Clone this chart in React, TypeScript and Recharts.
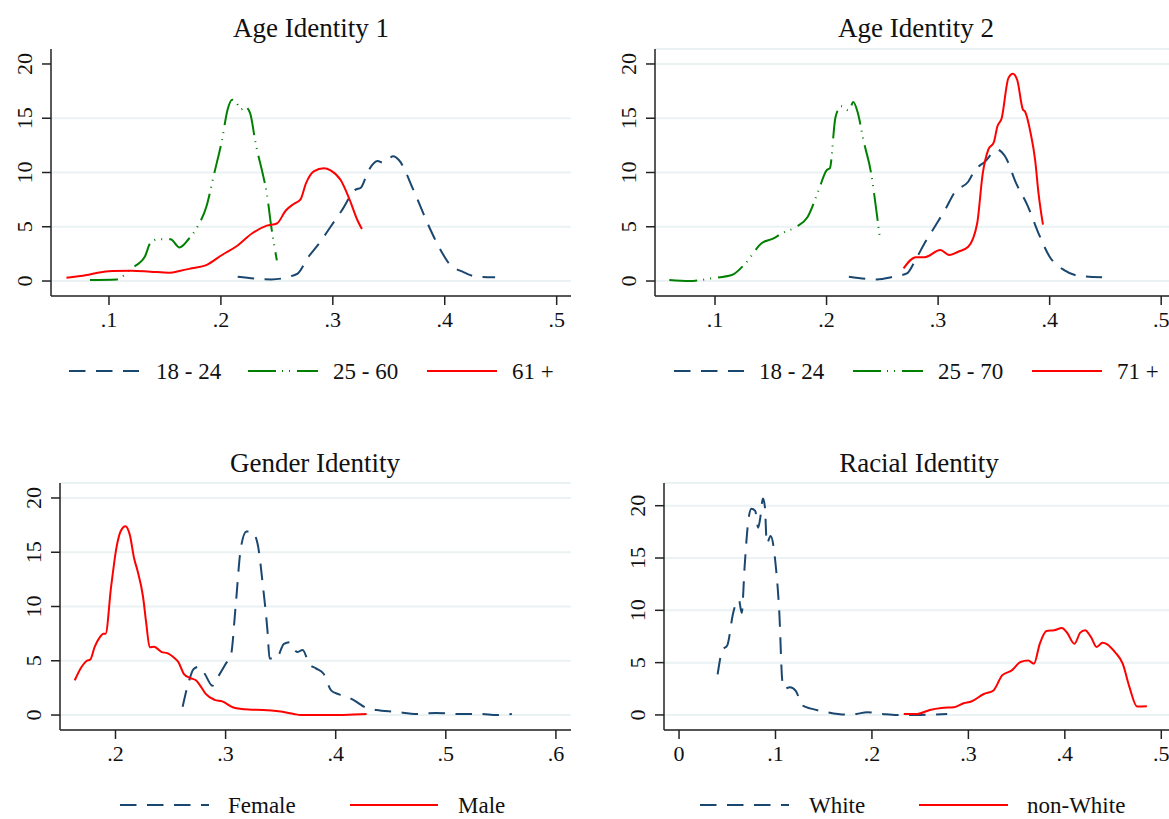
import React from 'react'
import { LineChart, Line, XAxis, YAxis, CartesianGrid } from 'recharts'

const FONT = '"Liberation Serif", "Times New Roman", serif'
const NAVY = '#1a476f'
const GREEN = '#008000'
const RED = '#ff0000'

type Pt = [number, number]

// ---- Age Identity 1
const age1Young: Pt[] = [
  [0.215, 0.4], [0.245, 0.15], [0.268, 0.65], [0.278, 2.2], [0.288, 3.5], [0.298, 5.0],
  [0.308, 6.5], [0.32, 8.4], [0.325, 8.6], [0.332, 10.2], [0.34, 11.05], [0.345, 10.9],
  [0.354, 11.5], [0.359, 11.15], [0.372, 8.4], [0.386, 5.0], [0.396, 2.9], [0.404, 1.6],
  [0.416, 0.86], [0.429, 0.4], [0.445, 0.34],
]
const age1Mid: Pt[] = [
  [0.083, 0.1], [0.107, 0.15], [0.12, 1.17], [0.132, 2.24], [0.137, 3.5], [0.144, 3.85],
  [0.155, 3.85], [0.163, 3.1], [0.171, 3.85], [0.179, 5.0], [0.187, 6.85], [0.194, 9.9],
  [0.201, 13.0], [0.206, 15.8], [0.21, 16.7], [0.214, 16.4], [0.218, 15.8], [0.221, 16.1],
  [0.226, 15.5], [0.231, 12.7], [0.238, 9.6], [0.241, 8.1], [0.245, 5.0], [0.25, 1.9],
]
const age1Old: Pt[] = [
  [0.062, 0.3], [0.08, 0.55], [0.09, 0.77], [0.103, 0.92], [0.12, 0.95], [0.137, 0.86],
  [0.154, 0.77], [0.164, 0.95], [0.174, 1.17], [0.187, 1.47], [0.201, 2.4], [0.214, 3.2],
  [0.228, 4.4], [0.241, 5.1], [0.25, 5.3], [0.258, 6.5], [0.265, 7.1], [0.271, 7.5],
  [0.276, 9.0], [0.283, 10.1], [0.292, 10.4], [0.298, 10.2], [0.307, 9.3], [0.315, 7.5],
  [0.322, 5.6], [0.326, 4.8],
]

// ---- Age Identity 2
const age2Young: Pt[] = [
  [0.22, 0.4], [0.245, 0.15], [0.26, 0.4], [0.272, 0.7], [0.28, 2.0], [0.288, 3.5],
  [0.297, 5.0], [0.307, 6.7], [0.315, 8.2], [0.327, 9.15], [0.333, 10.2], [0.342, 11.0],
  [0.353, 12.1], [0.36, 11.5], [0.37, 9.0], [0.38, 7.0], [0.39, 4.4], [0.4, 2.24],
  [0.413, 1.0], [0.427, 0.46], [0.447, 0.34],
]
const age2Mid: Pt[] = [
  [0.059, 0.1], [0.077, 0.0], [0.097, 0.25], [0.115, 0.55], [0.127, 1.6], [0.142, 3.5],
  [0.152, 3.9], [0.16, 4.4], [0.173, 5.0], [0.183, 5.9], [0.193, 8.4], [0.2, 10.2],
  [0.203, 10.4], [0.208, 15.1], [0.213, 16.1], [0.22, 15.7], [0.224, 16.5], [0.228, 15.5],
  [0.233, 13.0], [0.24, 9.9], [0.245, 6.2], [0.248, 3.8],
]
const age2Old: Pt[] = [
  [0.269, 1.17], [0.28, 2.2], [0.288, 2.2], [0.302, 2.86], [0.31, 2.4], [0.318, 2.7],
  [0.327, 3.16], [0.335, 5.3], [0.34, 9.9], [0.345, 12.1], [0.35, 12.8], [0.353, 14.2],
  [0.357, 15.0], [0.363, 18.7], [0.367, 19.1], [0.371, 18.5], [0.376, 15.8], [0.378, 15.6],
  [0.383, 13.6], [0.387, 11.15], [0.39, 8.1], [0.394, 5.2],
]

// ---- Gender Identity
const female: Pt[] = [
  [0.261, 0.77], [0.266, 2.86], [0.271, 4.25], [0.276, 4.46], [0.281, 3.8], [0.288, 2.7],
  [0.293, 3.5], [0.3, 4.7], [0.305, 5.6], [0.309, 9.9], [0.314, 15.5], [0.319, 16.9],
  [0.324, 16.9], [0.329, 15.8], [0.334, 11.8], [0.338, 7.8], [0.34, 5.2], [0.346, 5.2],
  [0.353, 6.55], [0.358, 6.7], [0.365, 5.8], [0.37, 6.0], [0.376, 4.7], [0.382, 4.3],
  [0.389, 3.8], [0.396, 2.25], [0.403, 1.9], [0.416, 1.4], [0.428, 0.65], [0.437, 0.46],
  [0.454, 0.3], [0.474, 0.1], [0.491, 0.18], [0.512, 0.1], [0.532, 0.1], [0.546, 0.0],
  [0.56, 0.1],
]
const male: Pt[] = [
  [0.163, 3.2], [0.169, 4.4], [0.174, 5.0], [0.177, 5.1], [0.181, 6.25], [0.186, 7.2],
  [0.189, 7.5], [0.191, 7.5], [0.196, 11.8], [0.201, 15.5], [0.205, 17.0], [0.209, 17.4],
  [0.213, 16.6], [0.217, 14.4], [0.22, 13.3], [0.225, 10.9], [0.228, 8.4], [0.231, 6.25],
  [0.235, 6.3], [0.242, 5.8], [0.247, 5.7], [0.254, 5.2], [0.257, 4.9], [0.262, 3.8],
  [0.268, 3.4], [0.273, 3.2], [0.278, 2.55], [0.282, 1.94], [0.29, 1.4], [0.297, 1.26],
  [0.307, 0.7], [0.321, 0.5], [0.334, 0.46], [0.348, 0.34], [0.362, 0.1], [0.368, 0.0],
  [0.403, 0.0], [0.416, 0.05], [0.428, 0.1],
]

// ---- Racial Identity
const white: Pt[] = [
  [0.04, 3.87], [0.045, 6.2], [0.05, 6.65], [0.056, 9.7], [0.058, 10.4], [0.062, 11.0],
  [0.065, 9.76], [0.068, 14.2], [0.072, 18.7], [0.075, 19.7], [0.079, 19.5], [0.082, 17.9],
  [0.084, 18.7], [0.087, 20.7], [0.089, 19.9], [0.091, 16.4], [0.095, 17.1], [0.1, 14.5],
  [0.104, 9.7], [0.107, 3.3], [0.109, 2.5], [0.115, 2.65], [0.121, 2.3], [0.128, 0.9],
  [0.138, 0.58], [0.153, 0.26], [0.172, 0.03], [0.184, 0.1], [0.195, 0.26], [0.211, 0.1],
  [0.226, 0.0], [0.245, 0.0], [0.26, 0.03], [0.278, 0.1],
]
const nonWhite: Pt[] = [
  [0.233, 0.1], [0.247, 0.1], [0.26, 0.48], [0.272, 0.67], [0.285, 0.74], [0.295, 1.12],
  [0.303, 1.28], [0.316, 2.0], [0.326, 2.34], [0.335, 3.78], [0.345, 4.26], [0.354, 5.06],
  [0.362, 5.2], [0.368, 4.9], [0.374, 6.8], [0.381, 8.03], [0.389, 8.1], [0.397, 8.3],
  [0.402, 7.9], [0.41, 6.8], [0.416, 7.87], [0.421, 8.1], [0.427, 7.46], [0.433, 6.5],
  [0.439, 6.9], [0.444, 6.75], [0.452, 6.0], [0.46, 4.9], [0.467, 2.66], [0.475, 0.8],
  [0.485, 0.83],
]

// ---- ticks
const yTicks = [0, 5, 10, 15, 20]
const xTicksAge = [0.1, 0.2, 0.3, 0.4, 0.5]
const xLabelsAge = ['.1', '.2', '.3', '.4', '.5']
const xTicksGender = [0.2, 0.3, 0.4, 0.5, 0.6]
const xLabelsGender = ['.2', '.3', '.4', '.5', '.6']
const xTicksRace = [0, 0.1, 0.2, 0.3, 0.4, 0.5]
const xLabelsRace = ['0', '.1', '.2', '.3', '.4', '.5']

const toRows = (pts: Pt[]) => pts.map(([x, y]) => ({ x, y }))

const DASH = '16.5 10.5'
const DASH_DOT = '28 6 1 6 1 7'

const tickText = { fontSize: 22, fontFamily: FONT, fill: '#111' }

interface SeriesDef {
  name: string
  pts: Pt[]
  color: string
  dash?: string
}

interface PanelProps {
  left: number
  top: number
  width: number
  yAxisWidth: number
  marginRight: number
  xDomain: [number, number]
  yDomain: [number, number]
  xTicks: number[]
  xLabels: string[]
  gridValues?: number[]
  series: SeriesDef[]
}

function Panel({ left, top, width, yAxisWidth, marginRight, xDomain, yDomain, xTicks, xLabels, gridValues, series }: PanelProps) {
  const XTick = (props: any) => {
    const { x, y, payload } = props
    const i = xTicks.findIndex((t) => Math.abs(t - payload.value) < 1e-9)
    return (
      <text x={x} y={y + 22} textAnchor="middle" style={tickText}>
        {xLabels[i]}
      </text>
    )
  }
  const YTick = (props: any) => {
    const { x, y, payload } = props
    const bx = x - 10
    return (
      <text x={bx} y={y} transform={`rotate(-90, ${bx}, ${y})`} textAnchor="middle" style={tickText}>
        {payload.value}
      </text>
    )
  }
  return (
    <div style={{ position: 'absolute', left, top }}>
      <LineChart width={width} height={380} margin={{ top: 49, right: marginRight, left: 0, bottom: 44 }}>
        <CartesianGrid
          vertical={false}
          stroke="#eaf2f3"
          strokeWidth={2}
          horizontalValues={gridValues}
        />
        <XAxis
          dataKey="x"
          type="number"
          domain={xDomain}
          allowDataOverflow
          ticks={xTicks}
          interval={0}
          height={40}
          tickSize={9}
          tickMargin={0}
          axisLine={{ stroke: '#222', strokeWidth: 1.5 }}
          tickLine={{ stroke: '#222', strokeWidth: 1.5 }}
          tick={<XTick />}
        />
        <YAxis
          type="number"
          domain={yDomain}
          allowDataOverflow
          ticks={yTicks}
          interval={0}
          width={yAxisWidth}
          tickSize={9}
          tickMargin={0}
          axisLine={{ stroke: '#222', strokeWidth: 1.5 }}
          tickLine={{ stroke: '#222', strokeWidth: 1.5 }}
          tick={<YTick />}
        />
        {series.map((s) => (
          <Line
            key={s.name}
            data={toRows(s.pts)}
            dataKey="y"
            name={s.name}
            type="monotone"
            stroke={s.color}
            strokeWidth={2}
            strokeDasharray={s.dash}
            dot={false}
            activeDot={false}
            isAnimationActive={false}
          />
        ))}
      </LineChart>
    </div>
  )
}

interface LegendItem {
  label: string
  color: string
  dash?: string
  x1: number
  x2: number
  tx: number
}

const legendText = { fontSize: 23, fontFamily: FONT, fill: '#111' }

function LegendRow({ y, items }: { y: number; items: LegendItem[] }) {
  return (
    <g>
      {items.map((it) => (
        <g key={it.label}>
          <line x1={it.x1} x2={it.x2} y1={y} y2={y} stroke={it.color} strokeWidth={2} strokeDasharray={it.dash} />
          <text x={it.tx} y={y + 7.5} style={legendText}>
            {it.label}
          </text>
        </g>
      ))}
    </g>
  )
}

const titleStyle = { fontSize: 27, fontFamily: FONT, fill: '#111' }

export default function App() {
  return (
    <div style={{ position: 'absolute', left: 0, top: 0, width: 1169, height: 819, background: '#fff', overflow: 'hidden', fontFamily: FONT }}>
      <Panel
        left={0}
        top={0}
        width={590}
        yAxisWidth={51}
        marginRight={19}
        xDomain={[0.0482, 0.5128]}
        yDomain={[-1.38, 21.38]}
        xTicks={xTicksAge}
        xLabels={xLabelsAge}
        gridValues={[0, 5, 10, 15]}
        series={[
          { name: '18 - 24', pts: age1Young, color: NAVY, dash: DASH },
          { name: '25 - 60', pts: age1Mid, color: GREEN, dash: DASH_DOT },
          { name: '61 +', pts: age1Old, color: RED },
        ]}
      />
      <Panel
        left={604}
        top={0}
        width={565}
        yAxisWidth={51}
        marginRight={0}
        xDomain={[0.0462, 0.507]}
        yDomain={[-1.38, 21.38]}
        xTicks={xTicksAge}
        xLabels={xLabelsAge}
        series={[
          { name: '18 - 24', pts: age2Young, color: NAVY, dash: DASH },
          { name: '25 - 70', pts: age2Mid, color: GREEN, dash: DASH_DOT },
          { name: '71 +', pts: age2Old, color: RED },
        ]}
      />
      <Panel
        left={0}
        top={434}
        width={590}
        yAxisWidth={60}
        marginRight={19}
        xDomain={[0.1496, 0.6137]}
        yDomain={[-1.38, 21.38]}
        xTicks={xTicksGender}
        xLabels={xLabelsGender}
        series={[
          { name: 'Female', pts: female, color: NAVY, dash: DASH },
          { name: 'Male', pts: male, color: RED },
        ]}
      />
      <Panel
        left={604}
        top={434}
        width={565}
        yAxisWidth={60}
        marginRight={0}
        xDomain={[-0.0156, 0.508]}
        yDomain={[-1.44, 22.17]}
        xTicks={xTicksRace}
        xLabels={xLabelsRace}
        series={[
          { name: 'White', pts: white, color: NAVY, dash: DASH },
          { name: 'non-White', pts: nonWhite, color: RED },
        ]}
      />
      <svg width={1169} height={819} style={{ position: 'absolute', left: 0, top: 0, pointerEvents: 'none' }}>
        <text x={311} y={37} textAnchor="middle" style={titleStyle}>Age Identity 1</text>
        <text x={916} y={37} textAnchor="middle" style={titleStyle}>Age Identity 2</text>
        <text x={315} y={471.5} textAnchor="middle" style={titleStyle}>Gender Identity</text>
        <text x={919} y={471.5} textAnchor="middle" style={titleStyle}>Racial Identity</text>
        <LegendRow
          y={371}
          items={[
            { label: '18 - 24', color: NAVY, dash: DASH, x1: 69, x2: 139, tx: 156 },
            { label: '25 - 60', color: GREEN, dash: DASH_DOT, x1: 248, x2: 318, tx: 333 },
            { label: '61 +', color: RED, x1: 427, x2: 497, tx: 512 },
          ]}
        />
        <LegendRow
          y={371}
          items={[
            { label: '18 - 24', color: NAVY, dash: DASH, x1: 674, x2: 744, tx: 759 },
            { label: '25 - 70', color: GREEN, dash: DASH_DOT, x1: 853, x2: 923, tx: 938 },
            { label: '71 +', color: RED, x1: 1032, x2: 1102, tx: 1117 },
          ]}
        />
        <LegendRow
          y={805}
          items={[
            { label: 'Female', color: NAVY, dash: DASH, x1: 120, x2: 209, tx: 228 },
            { label: 'Male', color: RED, x1: 350, x2: 438, tx: 458 },
          ]}
        />
        <LegendRow
          y={805}
          items={[
            { label: 'White', color: NAVY, dash: DASH, x1: 700, x2: 789, tx: 809 },
            { label: 'non-White', color: RED, x1: 919, x2: 1008, tx: 1027 },
          ]}
        />
      </svg>
    </div>
  )
}
